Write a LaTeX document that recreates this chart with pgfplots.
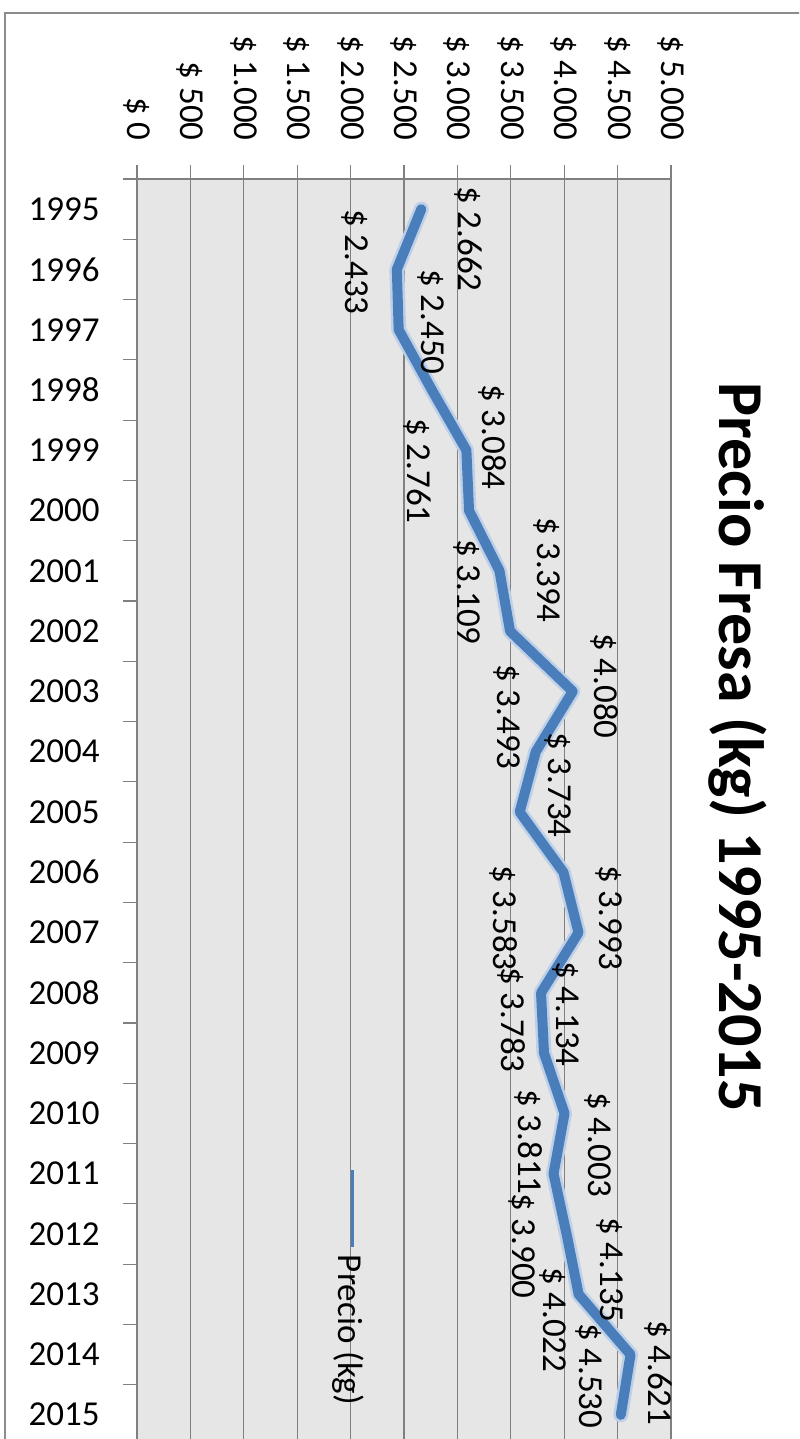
\documentclass[border=0pt]{standalone}
\usepackage{pgfplots}
\pgfplotsset{compat=1.18}
\usepackage{fontspec}
\setmainfont{Carlito}
\definecolor{lineblue}{RGB}{74,126,187}
\definecolor{halo}{RGB}{190,208,232}
\definecolor{plotgray}{RGB}{230,230,230}
\definecolor{gridgray}{RGB}{128,128,128}
\definecolor{framegray}{RGB}{140,140,140}
\pgfplotstableread{
year price
1995 2662
1996 2433
1997 2450
1998 2761
1999 3084
2000 3109
2001 3394
2002 3493
2003 4080
2004 3734
2005 3583
2006 3993
2007 4134
2008 3783
2009 3811
2010 4003
2011 3900
2012 4022
2013 4135
2014 4621
2015 4530
}\pricedata
\pgfplotstableread{
lx ly lab
3099 1995.495 2.662
2041 1995.876 2.433
2753 1996.872 2.450
3333 1998.779 3.084
2622 1999.342 2.761
3839 2000.984 3.394
3090 2001.349 3.109
4382 2002.908 4.080
3464 2003.422 3.493
3942 2004.550 3.734
4419 2006.755 3.993
3427 2006.755 3.583
4017 2008.348 4.134
3502 2008.447 3.783
4316 2010.521 4.003
3670 2010.471 3.811
3605 2012.196 3.900
4429 2012.594 4.135
3895 2013.422 4.022
4878 2014.301 4.621
4232 2014.351 4.530
}\labeldata
\begin{document}
\begin{tikzpicture}[x=0.5pt,y=0.5pt]
\useasboundingbox (0,0) rectangle (799,1439);
\clip (0,0) rectangle (799,1439);
\fill[white] (0,0) rectangle (799,1439);
\draw[framegray, line width=1.3pt] (5,1426) rectangle (1000,-100);
\begin{axis}[
  at={(68.5pt,-3pt)}, anchor=south west,
  scale only axis, width=267pt, height=633pt,
  xmin=0, xmax=5000, ymin=1994.5, ymax=2015.5, y dir=reverse,
  axis line style={draw=none},
  axis background/.style={fill=plotgray},
  xmajorgrids, major grid style={gridgray, line width=0.6pt},
  tick align=outside, major tick length=7pt, minor tick length=7pt,
  tick style={gridgray, line width=0.6pt},
  xtick pos=upper, xticklabel pos=upper,
  ytick pos=left, yticklabel pos=left,
  xtick={0,500,...,5000},
  xticklabels={\$ 0,\$ 500,\$ 1.000,\$ 1.500,\$ 2.000,\$ 2.500,\$ 3.000,\$ 3.500,\$ 4.000,\$ 4.500,\$ 5.000},
  ytick={1995,...,2015},
  yticklabels={1995,1996,1997,1998,1999,2000,2001,2002,2003,2004,2005,2006,2007,2008,2009,2010,2011,2012,2013,2014,2015},
  minor ytick={1994.5,1995.5,...,2015.5},
  major y tick style={draw=none},
  xticklabel style={rotate=-90, anchor=east, inner sep=0pt, font=\fontsize{17.5}{21}\selectfont, text=black},
  yticklabel style={anchor=east, inner sep=0pt, font=\fontsize{17.5}{21}\selectfont, text=black},
  xticklabel shift=12pt,
  yticklabel shift=11.5pt,
  clip=false,
]
\draw[gridgray, line width=0.6pt] (axis cs:0,1994.5) -- (axis cs:5000,1994.5);
\draw[gridgray, line width=0.6pt] (axis cs:0,1994.5) -- (axis cs:0,2015.5);
\addplot[halo, line width=7.5pt, line join=round, line cap=round] table[x=price, y=year] {\pricedata};
\addplot[lineblue, line width=5pt, line join=round, line cap=round] table[x=price, y=year] {\pricedata};
\addplot[draw=none, mark=none, nodes near coords={\$ \pgfplotspointmeta},
  point meta=explicit symbolic, nodes near coords align={anchor=center},
  every node near coord/.append style={rotate=-90, anchor=center, inner sep=0pt, font=\fontsize{17.5}{21}\selectfont, black}]
  table[x=lx, y=ly, meta=lab] {\labeldata};
\end{axis}
\draw[lineblue, line width=1.5pt] (352,269) -- (352,192);
\node[rotate=-90, anchor=center, inner sep=0pt, font=\fontsize{17.5}{21}\selectfont] at (348,109) {Precio (kg)};
\node[rotate=-90, anchor=center, inner sep=0pt, font=\bfseries\fontsize{32}{38}\selectfont] at (738,692) {Precio Fresa (kg) 1995-2015};
\end{tikzpicture}
\end{document}
